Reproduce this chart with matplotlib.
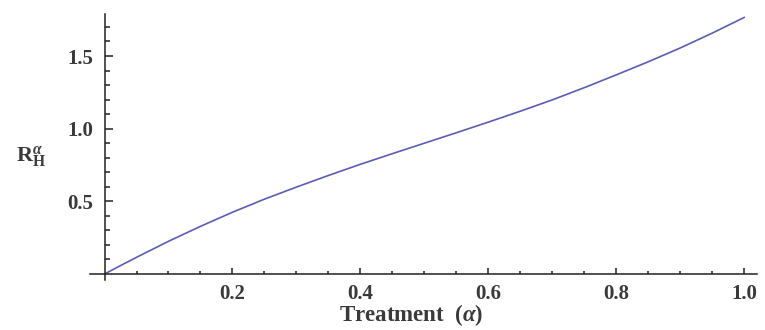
import matplotlib
matplotlib.use("Agg")
import matplotlib.pyplot as plt
from matplotlib.ticker import FixedLocator

plt.rcParams['font.family'] = ['Liberation Serif', 'DejaVu Serif']
plt.rcParams['mathtext.fontset'] = 'custom'
plt.rcParams['mathtext.rm'] = 'Liberation Serif:bold'
plt.rcParams['mathtext.it'] = 'Liberation Serif:italic:bold'
plt.rcParams['mathtext.bf'] = 'Liberation Serif:bold'

alpha = [0, 0.025, 0.05, 0.1, 0.15, 0.2, 0.25, 0.3, 0.35, 0.4, 0.45, 0.5, 0.55,
         0.6, 0.65, 0.7, 0.75, 0.8, 0.85, 0.9, 0.95, 1.0]
r_h = [0, 0.058, 0.115, 0.225, 0.328, 0.425, 0.515, 0.598, 0.678, 0.755, 0.828, 0.90, 0.972,
       1.045, 1.12, 1.198, 1.282, 1.37, 1.46, 1.555, 1.657, 1.765]
x_ticks = [0.2, 0.4, 0.6, 0.8, 1.0]
x_tick_labels = ["0.2", "0.4", "0.6", "0.8", "1.0"]
y_ticks = [0.5, 1.0, 1.5]
y_tick_labels = ["0.5", "1.0", "1.5"]

fig = plt.figure(figsize=(7.65, 3.3), dpi=100)
ax = fig.add_axes([0.1174, 0.152, 0.872, 0.806])
ax.plot(alpha, r_h, color='#5c5cb8', lw=1.2)

ax.set_xlim(-0.023, 1.02)
ax.set_ylim(-0.04, 1.79)
for s in ['top', 'right']:
    ax.spines[s].set_visible(False)
ax.spines['left'].set_position(('data', 0))
ax.spines['bottom'].set_position(('data', 0))
for s in ['left', 'bottom']:
    ax.spines[s].set_linewidth(1.1)
    ax.spines[s].set_color('#222222')

ax.xaxis.set_major_locator(FixedLocator(x_ticks))
ax.set_xticklabels(x_tick_labels, fontweight='bold')
ax.xaxis.set_minor_locator(FixedLocator([i * 0.05 for i in range(1, 21)]))
ax.yaxis.set_major_locator(FixedLocator(y_ticks))
ax.set_yticklabels(y_tick_labels, fontweight='bold')
ax.yaxis.set_minor_locator(FixedLocator([i * 0.1 for i in range(1, 18)]))

ax.tick_params(axis='x', which='major', direction='in', length=4, width=1.1, pad=7,
               labelsize=15, labelcolor='#3a3a3a', colors='#222222')
ax.tick_params(axis='x', which='minor', direction='in', length=2.2, width=1.1, colors='#222222')
ax.tick_params(axis='y', which='major', direction='in', length=5.5, width=1.1, pad=8,
               labelsize=15, labelcolor='#3a3a3a', colors='#222222')
ax.tick_params(axis='y', which='minor', direction='in', length=3.5, width=1.1, colors='#222222')

fig.text(0.537, 0.028, r'Treatment  ($\mathit{\alpha}$)', ha='center', va='baseline',
         fontsize=16.5, fontweight='bold', color='#3a3a3a')
fig.text(0.04, 0.525, r'$\mathrm{R}_{\mathrm{H}}^{\mathit{\alpha}}$', ha='center', va='center',
         fontsize=16, color='#3a3a3a')

fig.savefig('out.png', dpi=100)
